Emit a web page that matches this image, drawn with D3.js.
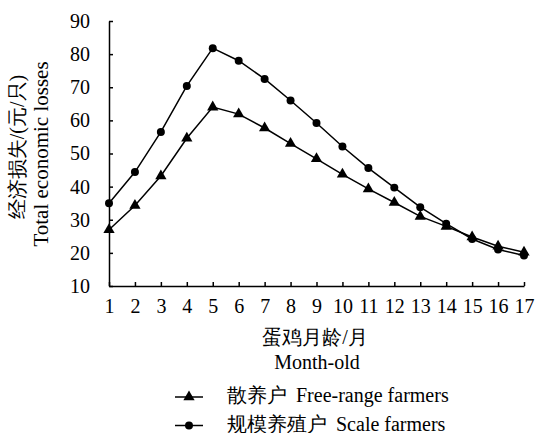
<!DOCTYPE html>
<html><head><meta charset="utf-8">
<script src="https://cdn.jsdelivr.net/npm/d3@7"></script>
<style>body{margin:0;background:#fff}</style>
</head><body>
<svg id="c" width="537" height="433"></svg>
<script>
const months = [1,2,3,4,5,6,7,8,9,10,11,12,13,14,15,16,17];
const freeRange = [27.0,34.3,43.2,54.6,64.0,61.9,57.7,53.0,48.4,43.7,39.3,35.2,31.0,28.0,24.8,22.0,20.2];
const scaleFarm = [35.0,44.4,56.5,70.4,81.8,78.0,72.5,66.0,59.2,52.1,45.6,39.7,33.8,28.8,24.2,21.0,19.2];
const yTicks = [10,20,30,40,50,60,70,80,90];
const seriesNames = ["散养户 Free-range farmers","规模养殖户 Scale farmers"];

(function(){
const svg = d3.select("#c").style("font-family","'Times New Roman', Times, 'Liberation Serif', 'DejaVu Serif', serif");
const fs = 20;
const pL=109, pR=524, pT=21, pB=286;
const x = d3.scalePoint().domain(months).range([pL,pR]);
const y = d3.scaleLinear().domain([10,90]).range([pB,pT]);

const gx = svg.append("g").attr("transform",`translate(0,${pB})`)
  .call(d3.axisBottom(x).tickSizeInner(-4).tickSizeOuter(0).tickPadding(10));
const gy = svg.append("g").attr("transform",`translate(${pL},0)`)
  .call(d3.axisLeft(y).tickValues(yTicks).tickSizeInner(-4).tickSizeOuter(0).tickPadding(19));
[gx,gy].forEach(g=>{
  g.attr("font-family",null).attr("font-size",null);
  g.selectAll("path,line").attr("stroke","#000").attr("stroke-width",1.5);
  g.selectAll("text").attr("font-size",fs).attr("fill","#000");
});
gx.selectAll("text").attr("dy","0.85em");

const line = d3.line().x((d,i)=>x(months[i])).y(d=>y(d));
const data = [freeRange, scaleFarm];
data.forEach((s,k)=>{
  svg.append("path").datum(s).attr("d",line).attr("fill","none").attr("stroke","#000").attr("stroke-width",1.5);
  const sym = k===0 ? d3.symbol(d3.symbolTriangle,55) : d3.symbol(d3.symbolCircle,50);
  svg.append("g").selectAll("path").data(s).join("path")
    .attr("d",sym).attr("fill","#000")
    .attr("transform",(d,i)=>`translate(${x(months[i])},${y(d)})`);
});

svg.append("text").attr("transform","translate(24,147) rotate(-90)")
  .attr("text-anchor","middle").attr("font-size",fs).text("经济损失/(元/只)");
svg.append("text").attr("transform","translate(48,154) rotate(-90)")
  .attr("text-anchor","middle").attr("font-size",21).text("Total economic losses");

svg.append("text").attr("x",315).attr("y",344).attr("text-anchor","middle")
  .attr("font-size",fs).text("蛋鸡月龄/月");
svg.append("text").attr("x",317).attr("y",369).attr("text-anchor","middle")
  .attr("font-size",fs).text("Month-old");

seriesNames.forEach((n,k)=>{
  const ly = 397 + k*28.5;
  const sp = n.indexOf(" ");
  svg.append("line").attr("x1",175).attr("x2",203).attr("y1",ly).attr("y2",ly).attr("stroke","#000").attr("stroke-width",1.5);
  const sym = k===0 ? d3.symbol(d3.symbolTriangle,55) : d3.symbol(d3.symbolCircle,50);
  svg.append("path").attr("d",sym).attr("transform",`translate(189,${ly})`).attr("fill","#000");
  const t = svg.append("text").attr("x",227).attr("y",ly+5).attr("font-size",fs);
  t.append("tspan").text(n.slice(0,sp));
  t.append("tspan").attr("dx",9).text(n.slice(sp+1));
});
})();
</script>
</body></html>
